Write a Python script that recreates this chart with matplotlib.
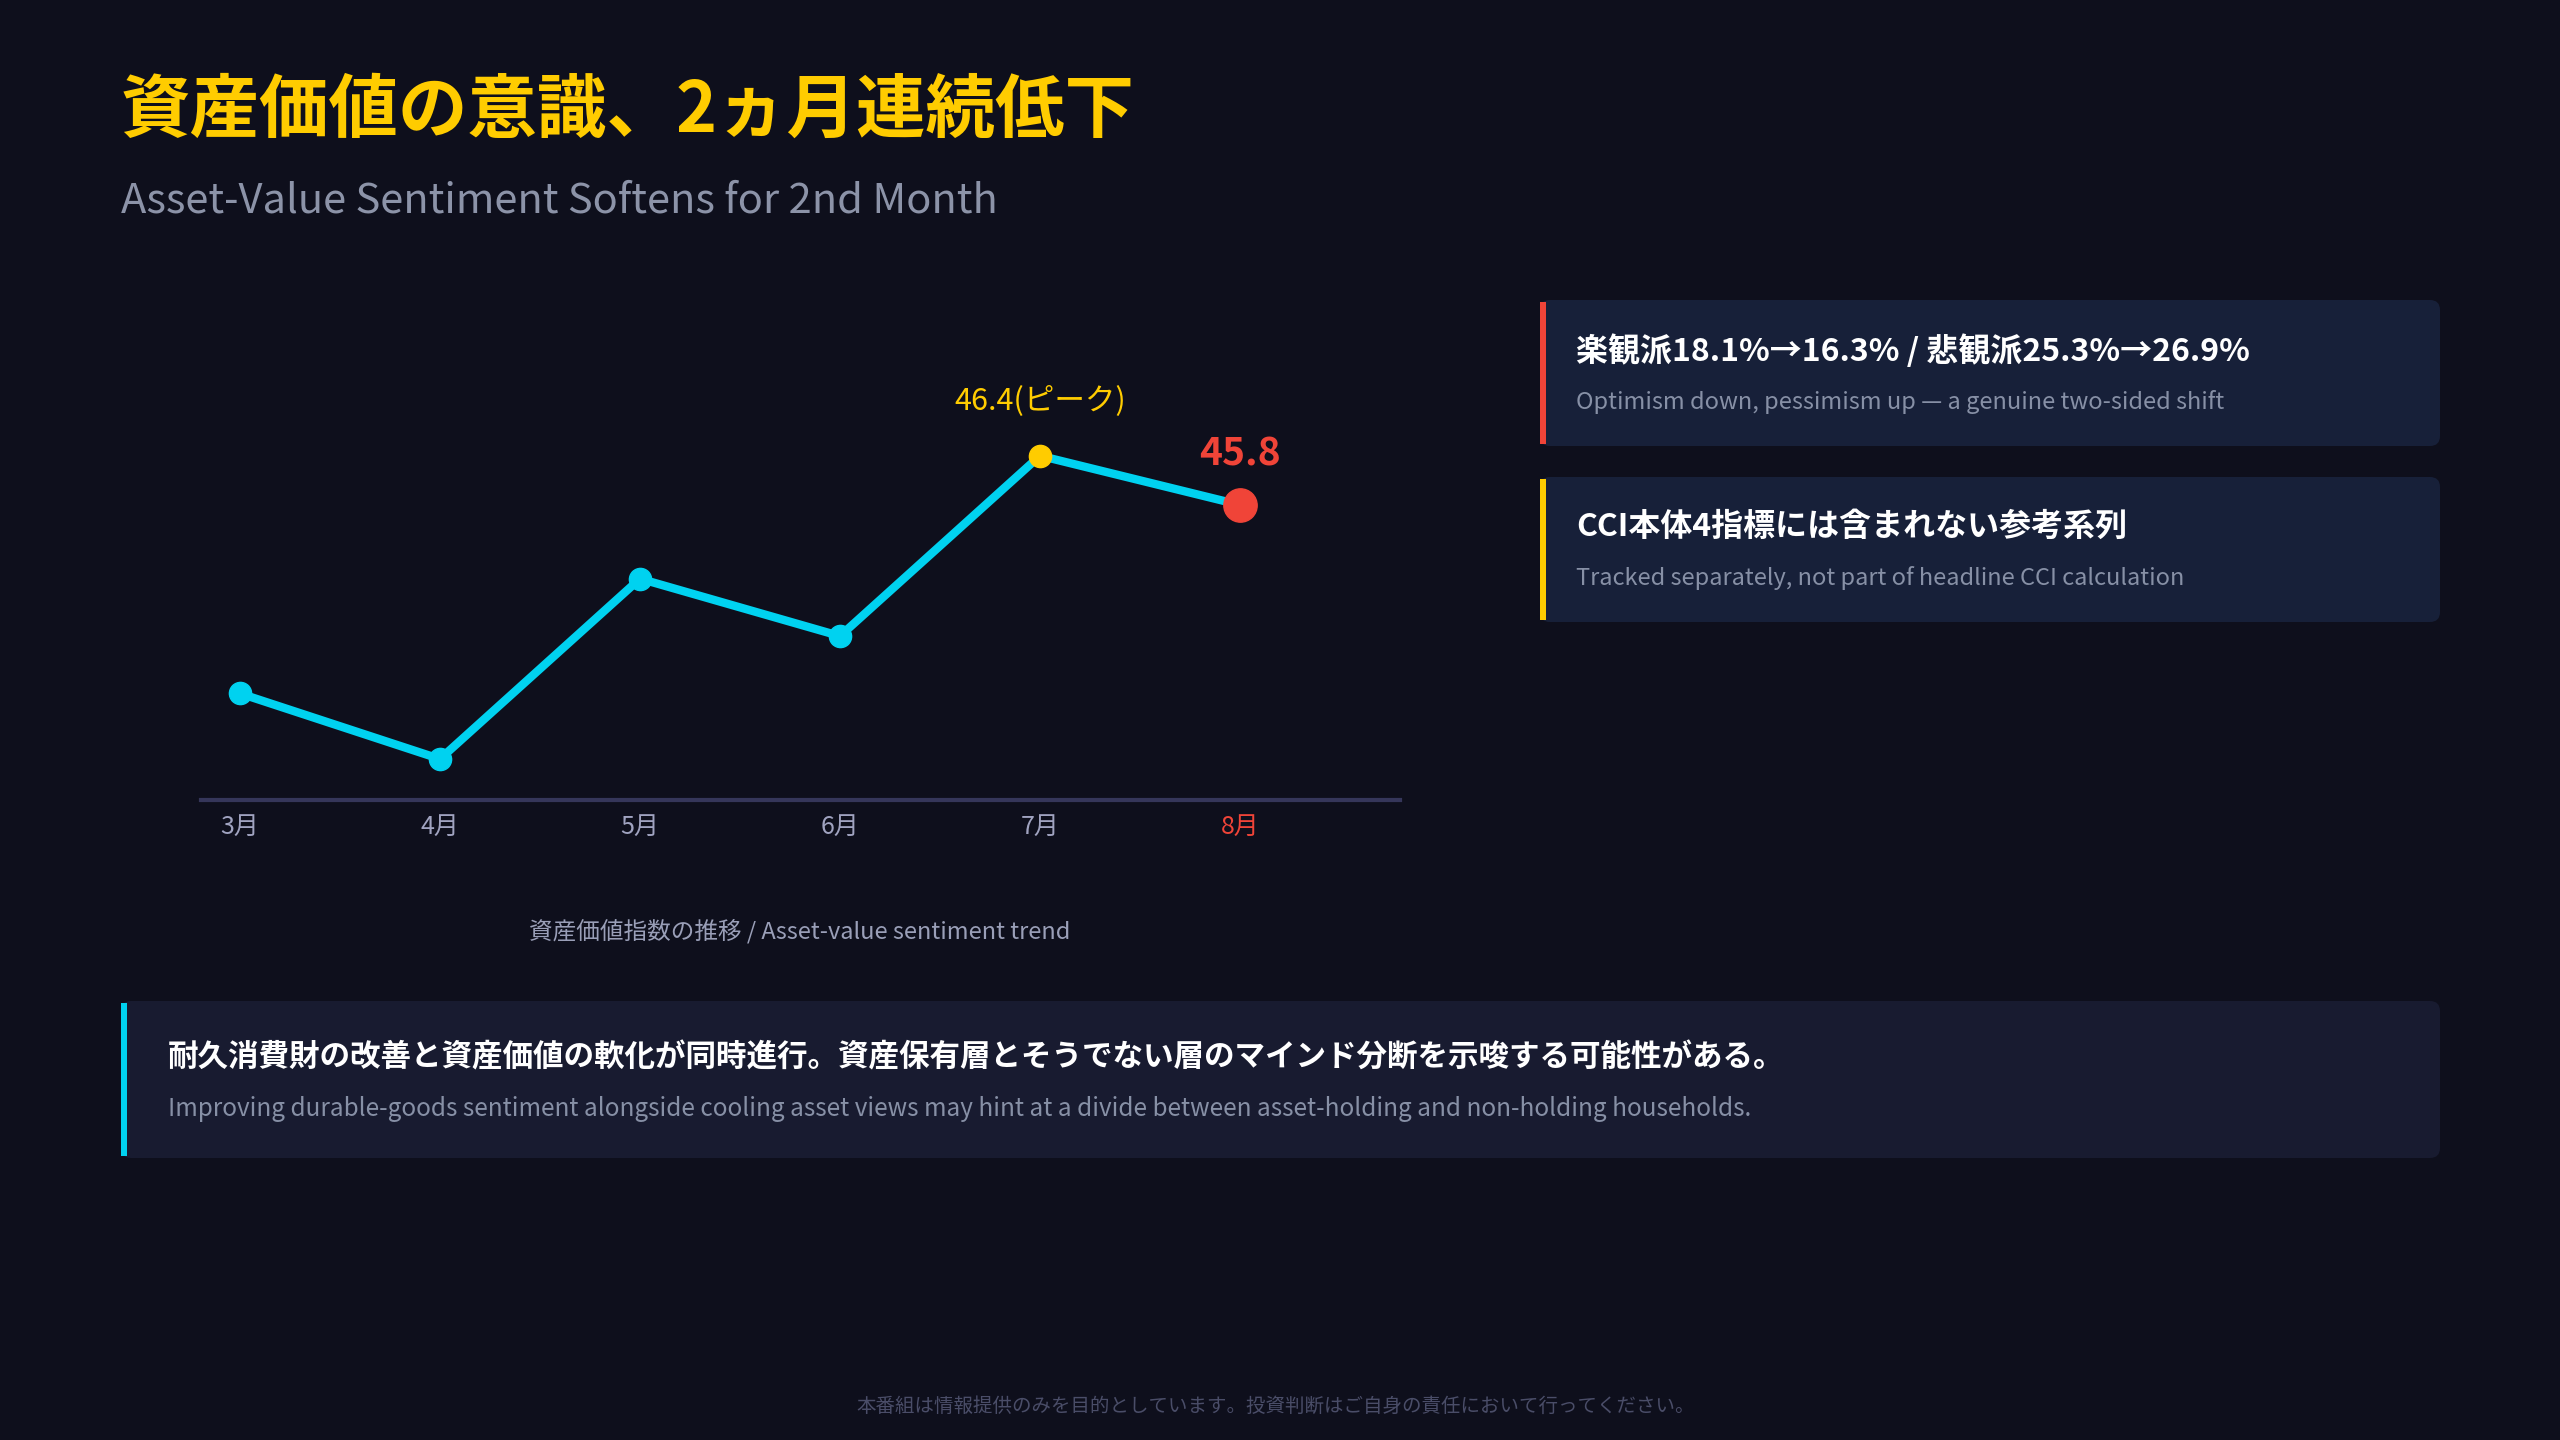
import matplotlib.pyplot as plt
from matplotlib.patches import FancyBboxPatch, Rectangle

plt.rcParams['font.family'] = ['Noto Sans CJK JP', 'DejaVu Sans']

months = ["3月", "4月", "5月", "6月", "7月", "8月"]
values = [43.5, 42.7, 44.9, 44.2, 46.4, 45.8]

BG = "#0e0f1c"
CYAN = "#00d2f0"
YEL = "#ffcc00"
RED = "#f04438"

fig = plt.figure(figsize=(25.6, 14.4), dpi=100, facecolor=BG)

# overlay axes in pixel coordinates for text and panels
ov = fig.add_axes([0, 0, 1, 1])
ov.set_xlim(0, 2560)
ov.set_ylim(1440, 0)
ov.axis("off")

ov.text(121, 111, "資産価値の意識、2ヵ月連続低下", color=YEL, fontsize=50,
        fontweight="bold", va="center")
ov.text(121, 201, "Asset-Value Sentiment Softens for 2nd Month", color="#8c93a8",
        fontsize=30, va="center")


def card(x0, y0, x1, y1, face, accent, title, sub, tsize, ssize, tx, ty, sy):
    ov.add_patch(FancyBboxPatch((x0, y0), x1 - x0, y1 - y0,
                                boxstyle="round,pad=0,rounding_size=10",
                                fc=face, ec="none"))
    ov.add_patch(Rectangle((x0, y0 + 2), 6, y1 - y0 - 4, fc=accent, ec="none"))
    ov.text(tx, ty, title, color="white", fontsize=tsize, fontweight="bold", va="center")
    ov.text(tx, sy, sub, color="#8790a6", fontsize=ssize, va="center")


card(1540, 300, 2440, 446, "#172039", RED,
     "楽観派18.1%→16.3% / 悲観派25.3%→26.9%",
     "Optimism down, pessimism up — a genuine two-sided shift", 23, 17, 1576, 351, 402)
card(1540, 477, 2440, 622, "#172039", YEL,
     "CCI本体4指標には含まれない参考系列",
     "Tracked separately, not part of headline CCI calculation", 23, 17, 1576, 527, 578)
card(121, 1001, 2440, 1158, "#181b30", CYAN,
     "耐久消費財の改善と資産価値の軟化が同時進行。資産保有層とそうでない層のマインド分断を示唆する可能性がある。",
     "Improving durable-goods sentiment alongside cooling asset views may hint at a divide between asset-holding and non-holding households.",
     22, 17.5, 168, 1057, 1109)

ov.text(800, 931, "資産価値指数の推移 / Asset-value sentiment trend", color="#9a9fb8",
        fontsize=17, ha="center", va="center")
ov.text(1276, 1406, "本番組は情報提供のみを目的としています。投資判断はご自身の責任において行ってください。",
        color="#4a4d68", fontsize=14, ha="center", va="center")

# chart axes
ax = fig.add_axes([201 / 2560, 1 - 800 / 1440, 1199 / 2560, 500 / 1440])
ax.set_facecolor("none")
x = list(range(len(months)))
ax.plot(x, values, color=CYAN, lw=6, solid_capstyle="round", zorder=2)
ax.plot(x[:4], values[:4], "o", color=CYAN, ms=16, zorder=3)
ax.plot(x[4], values[4], "o", color=YEL, ms=16, zorder=3)
ax.plot(x[5], values[5], "o", color=RED, ms=24, zorder=3)
ax.annotate("46.4(ピーク)", (x[4], values[4]), xytext=(0, 40), textcoords="offset points",
            color=YEL, fontsize=22, ha="center", va="center")
ax.annotate(f"{values[5]}", (x[5], values[5]), xytext=(0, 37), textcoords="offset points",
            color=RED, fontsize=28, fontweight="bold", ha="center", va="center")

ax.set_xlim(-0.195, 5.8)
ax.set_ylim(42.2, 48.3)
for s in ["top", "right", "left"]:
    ax.spines[s].set_visible(False)
ax.spines["bottom"].set_color("#35365a")
ax.spines["bottom"].set_linewidth(3)
ax.set_yticks([])
ax.set_xticks(x)
ax.set_xticklabels(months, fontsize=18)
ax.tick_params(axis="x", length=0, pad=10, colors="#a0a3c0")
ax.get_xticklabels()[-1].set_color(RED)

fig.savefig("out.png", dpi=100, facecolor=BG)
